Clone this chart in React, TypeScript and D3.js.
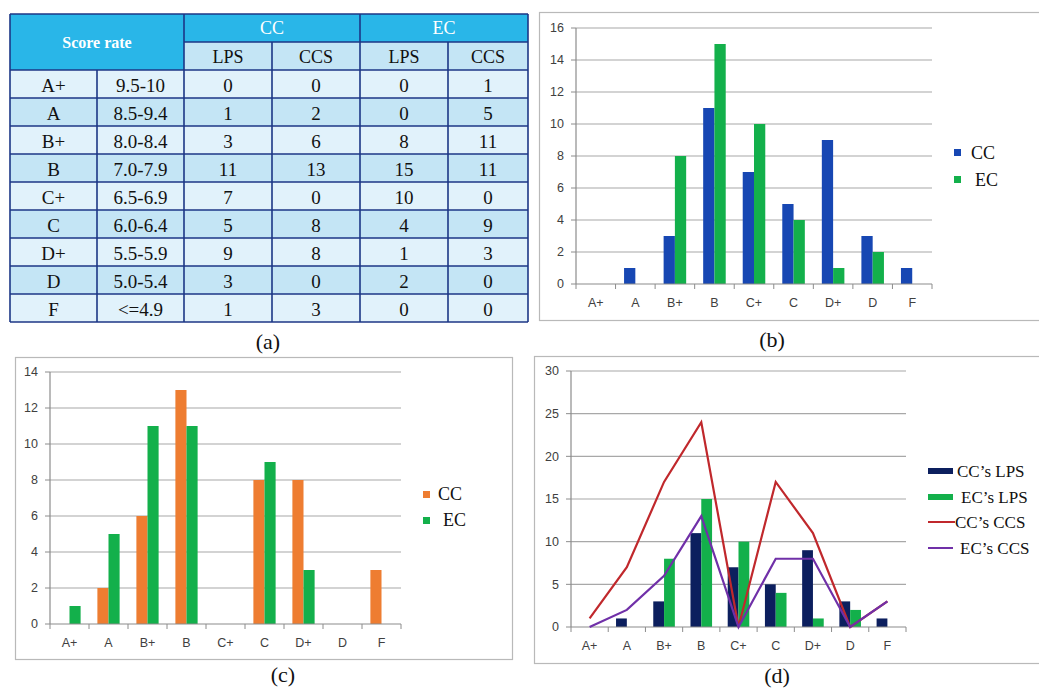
import React from "react";
import * as d3 from "d3";

// Grade bands and score ranges
const grades = ["A+", "A", "B+", "B", "C+", "C", "D+", "D", "F"];
const ranges = ["9.5-10", "8.5-9.4", "8.0-8.4", "7.0-7.9", "6.5-6.9", "6.0-6.4", "5.5-5.9", "5.0-5.4", "<=4.9"];

// Student counts per grade
const ccLPS = [0, 1, 3, 11, 7, 5, 9, 3, 1];
const ccCCS = [0, 2, 6, 13, 0, 8, 8, 0, 3];
const ecLPS = [0, 0, 8, 15, 10, 4, 1, 2, 0];
const ecCCS = [1, 5, 11, 11, 0, 9, 3, 0, 0];

const yTicksB = [0, 2, 4, 6, 8, 10, 12, 14, 16];
const yTicksC = [0, 2, 4, 6, 8, 10, 12, 14];
const yTicksD = [0, 5, 10, 15, 20, 25, 30];

const SERIF = "'Liberation Serif', 'Times New Roman', serif";
const SANS = "'Liberation Sans', Arial, sans-serif";

const BLUE = "#1747b3";
const GREEN = "#13b04b";
const ORANGE = "#ee7d31";
const NAVY = "#0c1f5e";
const RED = "#c0282c";
const PURPLE = "#7030a8";

type Series = { values: number[]; color: string };
type Frame = { x0: number; x1: number; y0: number; y1: number; max: number; ticks: number[] };

function Axes({ f, x, y }: { f: Frame; x: d3.ScaleBand<string>; y: d3.ScaleLinear<number, number> }) {
  const bounds = [...grades.map((g) => x(g) as number), f.x1];
  return (
    <g>
      {f.ticks.map((t) => (
        <g key={t}>
          {t > 0 && <line x1={f.x0} x2={f.x1} y1={y(t)} y2={y(t)} stroke="#a8a8a8" strokeWidth={1.2} />}
          <line x1={f.x0 - 5} x2={f.x0} y1={y(t)} y2={y(t)} stroke="#8c8c8c" strokeWidth={1} />
          <text x={f.x0 - 12} y={y(t)} dy="0.35em" textAnchor="end" fontFamily={SANS} fontSize={12.5} fill="#404040">
            {t}
          </text>
        </g>
      ))}
      <line x1={f.x0} x2={f.x0} y1={y(f.max)} y2={f.y0} stroke="#8c8c8c" strokeWidth={1.2} />
      {bounds.map((b, i) => (
        <line key={i} x1={b} x2={b} y1={f.y0} y2={f.y0 + 5} stroke="#8c8c8c" strokeWidth={1} />
      ))}
      {grades.map((g) => (
        <text key={g} x={(x(g) as number) + x.bandwidth() / 2} y={f.y0 + 19} dy="0.35em" textAnchor="middle" fontFamily={SANS} fontSize={12.5} fill="#404040">
          {g}
        </text>
      ))}
    </g>
  );
}

function BarChart({ f, series, barFrac, lines }: { f: Frame; series: Series[]; barFrac: number; lines?: Series[] }) {
  const x = d3.scaleBand<string>().domain(grades).range([f.x0, f.x1]).padding(0);
  const y = d3.scaleLinear().domain([0, f.max]).range([f.y0, f.y1]);
  const bw = x.bandwidth() * barFrac;
  const groupW = bw * series.length;
  const inner = d3
    .scaleBand<number>()
    .domain(series.map((_, i) => i))
    .range([0, groupW]);
  const line = d3
    .line<number>()
    .x((_, i) => (x(grades[i]) as number) + x.bandwidth() / 2)
    .y((v) => y(v));
  return (
    <g>
      <Axes f={f} x={x} y={y} />
      {series.map((s, si) =>
        s.values.map((v, i) =>
          v > 0 ? (
            <rect
              key={`${si}-${i}`}
              x={(x(grades[i]) as number) + (x.bandwidth() - groupW) / 2 + (inner(si) as number)}
              y={y(v)}
              width={bw}
              height={f.y0 - y(v)}
              fill={s.color}
            />
          ) : null
        )
      )}
      <line x1={f.x0} x2={f.x1} y1={f.y0} y2={f.y0} stroke="#8c8c8c" strokeWidth={1.2} />
      {lines?.map((l, li) => (
        <path key={li} d={line(l.values) as string} fill="none" stroke={l.color} strokeWidth={2.2} strokeLinejoin="miter" />
      ))}
    </g>
  );
}

function ScoreTable() {
  const colX = [10, 97, 184, 272, 360, 448, 528];
  const top = 14;
  const headH = 28;
  const rowH = 28.0;
  const bodyTop = top + headH * 2;
  const border = "#1c3686";
  const light = "#e1f2fb";
  const mid = "#c4e5f5";
  const head = "#29b6e8";
  const rows = grades.map((g, i) => [g, ranges[i], ccLPS[i], ccCCS[i], ecLPS[i], ecCCS[i]]);
  const bottom = bodyTop + rowH * rows.length;
  return (
    <g fontFamily={SERIF}>
      <rect x={colX[0]} y={top} width={colX[6] - colX[0]} height={headH} fill={head} />
      <rect x={colX[0]} y={top + headH} width={colX[2] - colX[0]} height={headH} fill={head} />
      <rect x={colX[2]} y={top + headH} width={colX[6] - colX[2]} height={headH} fill={mid} />
      {rows.map((_, r) => (
        <rect key={r} x={colX[0]} y={bodyTop + r * rowH} width={colX[6] - colX[0]} height={rowH} fill={r % 2 === 0 ? light : mid} />
      ))}
      {rows.map((_, r) => (
        <line key={r} x1={colX[0]} x2={colX[6]} y1={bodyTop + r * rowH} y2={bodyTop + r * rowH} stroke={border} strokeWidth={1.6} />
      ))}
      <line x1={colX[2]} x2={colX[6]} y1={top + headH} y2={top + headH} stroke={border} strokeWidth={1.6} />
      <line x1={colX[0]} x2={colX[6]} y1={top} y2={top} stroke={border} strokeWidth={1.6} />
      <line x1={colX[0]} x2={colX[6]} y1={bottom} y2={bottom} stroke={border} strokeWidth={1.6} />
      <line x1={colX[0]} x2={colX[0]} y1={top} y2={bottom} stroke={border} strokeWidth={1.6} />
      <line x1={colX[6]} x2={colX[6]} y1={top} y2={bottom} stroke={border} strokeWidth={1.6} />
      <line x1={colX[1]} x2={colX[1]} y1={bodyTop} y2={bottom} stroke={border} strokeWidth={1.6} />
      <line x1={colX[2]} x2={colX[2]} y1={top} y2={bottom} stroke={border} strokeWidth={1.6} />
      <line x1={colX[4]} x2={colX[4]} y1={top} y2={bottom} stroke={border} strokeWidth={1.6} />
      {[3, 5].map((c) => (
        <line key={c} x1={colX[c]} x2={colX[c]} y1={top + headH} y2={bottom} stroke={border} strokeWidth={1.6} />
      ))}
      <text x={(colX[0] + colX[2]) / 2} y={top + headH} dy="0.35em" textAnchor="middle" fill="#fff" fontWeight="bold" fontSize={16}>
        Score rate
      </text>
      <text x={(colX[2] + colX[4]) / 2} y={top + headH / 2} dy="0.35em" textAnchor="middle" fill="#fff" fontSize={18}>
        CC
      </text>
      <text x={(colX[4] + colX[6]) / 2} y={top + headH / 2} dy="0.35em" textAnchor="middle" fill="#fff" fontSize={18}>
        EC
      </text>
      {["LPS", "CCS", "LPS", "CCS"].map((t, i) => (
        <text key={i} x={(colX[2 + i] + colX[3 + i]) / 2} y={top + headH * 1.5 + 1} dy="0.35em" textAnchor="middle" fill="#111" fontSize={18}>
          {t}
        </text>
      ))}
      {rows.map((row, r) =>
        row.map((cell, c) => (
          <text key={`${r}-${c}`} x={(colX[c] + colX[c + 1]) / 2} y={bodyTop + r * rowH + rowH / 2 + 1} dy="0.35em" textAnchor="middle" fill="#111" fontSize={19}>
            {cell}
          </text>
        ))
      )}
    </g>
  );
}

export default function App() {
  const frameB: Frame = { x0: 576, x1: 932, y0: 284, y1: 28, max: 16, ticks: yTicksB };
  const frameC: Frame = { x0: 50, x1: 401, y0: 624, y1: 372, max: 14, ticks: yTicksC };
  const frameD: Frame = { x0: 571, x1: 906, y0: 627, y1: 371, max: 30, ticks: yTicksD };

  // Stacked CCS lines: lower layer from CC, upper layer CC + EC
  const stacked = d3
    .stack<number>()
    .keys(["cc", "ec"])
    .value((i, key) => (key === "cc" ? ccCCS[i] : ecCCS[i]))(grades.map((_, i) => i));
  const lowerLine = stacked[0].map((p) => p[1]);
  const upperLine = stacked[1].map((p) => p[1]);

  return (
    <svg width={1039} height={688} style={{ position: "fixed", left: 0, top: 0, background: "#fff" }}>
      <rect width={1039} height={688} fill="#fff" />

      {/* (a) table */}
      <ScoreTable />
      <text x={268} y={341} dy="0.35em" textAnchor="middle" fontFamily={SERIF} fontSize={22} fill="#111">(a)</text>

      {/* (b) LPS comparison */}
      <rect x={539.5} y={12.5} width={520} height={308} fill="#fff" stroke="#b9b9b9" strokeWidth={1.2} />
      <BarChart f={frameB} series={[{ values: ccLPS, color: BLUE }, { values: ecLPS, color: GREEN }]} barFrac={0.285} />
      <rect x={954} y={149} width={7} height={7} fill={BLUE} />
      <text x={971} y={153} dy="0.35em" fontFamily={SERIF} fontSize={18} fill="#111">CC</text>
      <rect x={954} y={176} width={7} height={7} fill={GREEN} />
      <text x={975} y={180} dy="0.35em" fontFamily={SERIF} fontSize={18} fill="#111">EC</text>
      <text x={772} y={339} dy="0.35em" textAnchor="middle" fontFamily={SERIF} fontSize={22} fill="#111">(b)</text>

      {/* (c) CCS comparison */}
      <rect x={15.5} y={357.5} width={497} height={302} fill="#fff" stroke="#b9b9b9" strokeWidth={1.2} />
      <BarChart f={frameC} series={[{ values: ccCCS, color: ORANGE }, { values: ecCCS, color: GREEN }]} barFrac={0.285} />
      <rect x={423} y={491} width={7} height={7} fill={ORANGE} />
      <text x={438} y={494} dy="0.35em" fontFamily={SERIF} fontSize={18} fill="#111">CC</text>
      <rect x={423} y={517} width={7} height={7} fill={GREEN} />
      <text x={443} y={520} dy="0.35em" fontFamily={SERIF} fontSize={18} fill="#111">EC</text>
      <text x={283} y={674} dy="0.35em" textAnchor="middle" fontFamily={SERIF} fontSize={22} fill="#111">(c)</text>

      {/* (d) combined */}
      <rect x={534.5} y={356.5} width={520} height={307} fill="#fff" stroke="#b9b9b9" strokeWidth={1.2} />
      <BarChart
        f={frameD}
        series={[{ values: ccLPS, color: NAVY }, { values: ecLPS, color: GREEN }]}
        barFrac={0.29}
        lines={[{ values: upperLine, color: RED }, { values: lowerLine, color: PURPLE }]}
      />
      <rect x={928} y={468} width={25} height={6} fill={NAVY} />
      <text x={957} y={471} dy="0.35em" fontFamily={SERIF} fontSize={17} fill="#111">CC’s LPS</text>
      <rect x={928} y={494} width={25} height={6} fill={GREEN} />
      <text x={961} y={497} dy="0.35em" fontFamily={SERIF} fontSize={17} fill="#111">EC’s LPS</text>
      <line x1={928} x2={955} y1={522} y2={522} stroke={RED} strokeWidth={2} />
      <text x={955} y={522} dy="0.35em" fontFamily={SERIF} fontSize={17} fill="#111">CC’s CCS</text>
      <line x1={928} x2={953} y1={548} y2={548} stroke={PURPLE} strokeWidth={2} />
      <text x={960} y={548} dy="0.35em" fontFamily={SERIF} fontSize={17} fill="#111">EC’s CCS</text>
      <text x={777} y={675} dy="0.35em" textAnchor="middle" fontFamily={SERIF} fontSize={22} fill="#111">(d)</text>
    </svg>
  );
}
